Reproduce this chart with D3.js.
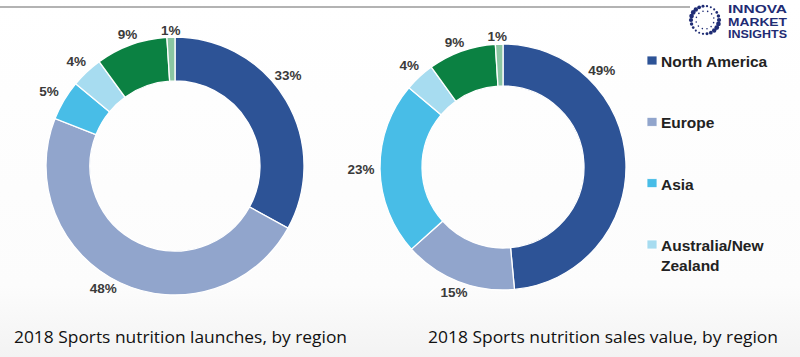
<!DOCTYPE html>
<html>
<head>
<meta charset="utf-8">
<script src="https://cdn.jsdelivr.net/npm/d3@7/dist/d3.min.js"></script>
<style>
  html, body { margin: 0; padding: 0; background: #fff; }
  svg { display: block; }
</style>
</head>
<body>
<svg id="chart" width="800" height="357"></svg>
<script>
// ---------- data ----------
const categories = ["North America", "Europe", "Asia", "Australia/New Zealand", "Latin America", "Middle East & Africa"];
const launchesValues = [33, 48, 5, 4, 9, 1];
const salesValues = [49, 15, 23, 4, 9, 1];
const legendItems = ["North America", "Europe", "Asia", "Australia/New Zealand"];
const legendLines = [["North America"], ["Europe"], ["Asia"], ["Australia/New", "Zealand"]];
const chartTitles = ["2018 Sports nutrition launches, by region", "2018 Sports nutrition sales value, by region"];
const logoLines = ["INNOVA", "MARKET", "INSIGHTS"];

// ---------- style ----------
const colors = ["#2d5396", "#91a5cc", "#48bde7", "#a7dcf0", "#0b8142", "#8ac6a2"];
const color = d3.scaleOrdinal().domain(categories).range(colors);

const W = 800, H = 357;
const svg = d3.select("#chart");

// background
const defs = svg.append("defs");
const grad = defs.append("linearGradient").attr("id", "bg").attr("x1", 0).attr("y1", 0).attr("x2", 0).attr("y2", 1);
grad.append("stop").attr("offset", "0%").attr("stop-color", "#ffffff");
grad.append("stop").attr("offset", "80%").attr("stop-color", "#fcfcfc");
grad.append("stop").attr("offset", "100%").attr("stop-color", "#f3f3f3");
svg.append("rect").attr("width", W).attr("height", H).attr("fill", "url(#bg)");

// top rule
svg.append("line").attr("x1", 0).attr("x2", 690).attr("y1", 7).attr("y2", 7)
  .attr("stroke", "#9a9a9a").attr("stroke-width", 1.5);

// ---------- donuts ----------
const donuts = [
  { values: launchesValues, cx: 175, cy: 166, outer: 129, inner: 85, labelFrac: [0.43, 0.53, 0.5, 0.5, 0.5, 0.5], title: chartTitles[0], tx: 14, tw: 333 },
  { values: salesValues, cx: 503, cy: 167, outer: 123, inner: 81, labelFrac: [0.26, 0.5, 0.5, 0.5, 0.45, 0.3], title: chartTitles[1], tx: 428, tw: 350 }
];

const pie = d3.pie().sort(null).value(d => d.value).startAngle(0).endAngle(2 * Math.PI);

donuts.forEach(cfg => {
  const data = categories.map((c, i) => ({ name: c, value: cfg.values[i] }));
  const arcs = pie(data);
  const arc = d3.arc().innerRadius(cfg.inner).outerRadius(cfg.outer);
  const g = svg.append("g").attr("transform", `translate(${cfg.cx},${cfg.cy})`);

  g.selectAll("path.slice").data(arcs).enter().append("path")
    .attr("class", "slice")
    .attr("d", arc)
    .attr("fill", d => color(d.data.name))
    .attr("stroke", "#ffffff")
    .attr("stroke-width", 1.3);

  g.selectAll("text.lbl").data(arcs).enter().append("text")
    .attr("class", "lbl")
    .attr("transform", (d, i) => {
      const a = d.startAngle + (d.endAngle - d.startAngle) * cfg.labelFrac[i];
      const r = cfg.outer + 7 + Math.abs(Math.sin(a)) * 12;
      return `translate(${Math.sin(a) * r},${-Math.cos(a) * r})`;
    })
    .attr("text-anchor", "middle")
    .attr("dy", "0.36em")
    .attr("font-family", "Liberation Sans, Arial, sans-serif")
    .attr("font-weight", "bold")
    .attr("font-size", 13.5)
    .attr("fill", "#3a3a3a")
    .text(d => d.data.value + "%");

  svg.append("text")
    .attr("x", cfg.tx).attr("y", 343)
    .attr("font-family", "Open Sans, Lato, sans-serif")
    .attr("font-size", 17)
    .attr("fill", "#111")
    .attr("textLength", cfg.tw)
    .attr("lengthAdjust", "spacingAndGlyphs")
    .text(cfg.title);
});

// ---------- legend ----------
const legendY = d3.scalePoint().domain(legendItems).range([61, 245]);
const lg = svg.append("g");
legendItems.forEach((name, i) => {
  const y = legendY(name);
  lg.append("rect").attr("x", 647).attr("y", y - 5).attr("width", 10).attr("height", 9)
    .attr("fill", color(name)).attr("stroke", "#ffffff").attr("stroke-width", 0.8);
  const t = lg.append("text")
    .attr("x", 661).attr("y", y + 6)
    .attr("font-family", "Liberation Sans, Arial, sans-serif")
    .attr("font-weight", "bold")
    .attr("font-size", 15.5)
    .attr("fill", "#222");
  legendLines[i].forEach((ln, j) => {
    t.append("tspan").attr("x", 661).attr("dy", j === 0 ? 0 : 20).text(ln);
  });
});

// ---------- logo ----------
const logo = svg.append("g").attr("transform", "translate(705,20)");
const dotCount = 22;
d3.range(dotCount).forEach(k => {
  const a = (k / dotCount) * 2 * Math.PI;
  const rr = 1 + 1.4 * (0.5 + 0.5 * Math.sin(a * 2 + 0.6));
  logo.append("circle").attr("cx", Math.cos(a) * 14).attr("cy", Math.sin(a) * 14)
    .attr("r", rr).attr("fill", "#1f2c74");
});
d3.range(12).forEach(k => {
  const a = (k / 12) * 2 * Math.PI + 0.3;
  logo.append("circle").attr("cx", Math.cos(a) * 9).attr("cy", Math.sin(a) * 9)
    .attr("r", 0.8).attr("fill", "#1f2c74");
});
logoLines.forEach((ln, i) => {
  svg.append("text").attr("x", 728).attr("y", 13 + i * 12.5)
    .attr("font-family", "Liberation Sans, Arial, sans-serif")
    .attr("font-weight", "bold").attr("font-size", 11)
    .attr("fill", "#1f2c74")
    .attr("textLength", 59).attr("lengthAdjust", "spacingAndGlyphs")
    .text(ln);
});
</script>
</body>
</html>
